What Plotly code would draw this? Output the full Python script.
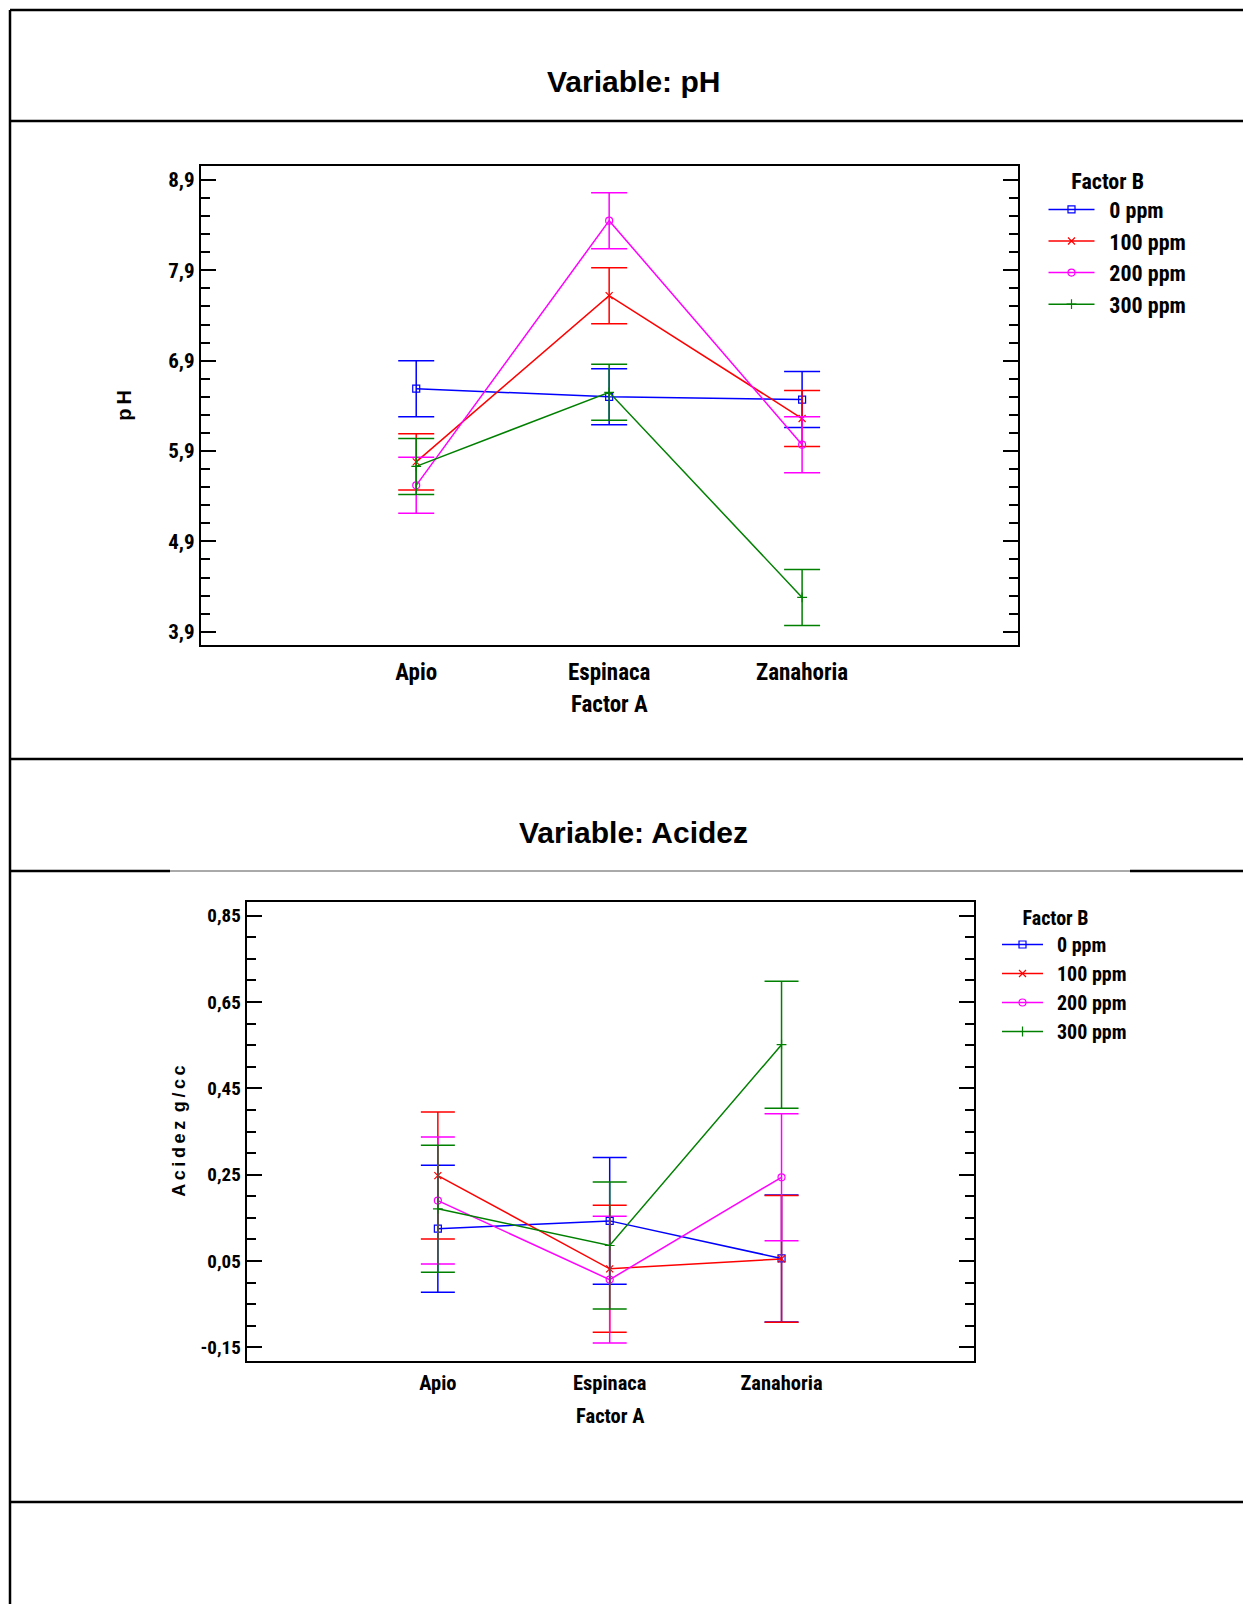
import plotly.graph_objects as go

# ---------------- data ----------------
factor_a = ["Apio", "Espinaca", "Zanahoria"]
factor_b = ["0 ppm", "100 ppm", "200 ppm", "300 ppm"]

ph_0 = [6.59, 6.50, 6.47]
ph_100 = [5.78, 7.62, 6.26]
ph_200 = [5.52, 8.45, 5.97]
ph_300 = [5.73, 6.55, 4.28]
ph_err = [0.31, 0.31, 0.31]

ac_0 = [0.125, 0.143, 0.056]
ac_100 = [0.248, 0.032, 0.055]
ac_200 = [0.190, 0.007, 0.244]
ac_300 = [0.171, 0.086, 0.551]
ac_err = [0.147, 0.147, 0.147]

ph_tickvals = [3.9, 4.9, 5.9, 6.9, 7.9, 8.9]
ph_ticktext = ["3,9", "4,9", "5,9", "6,9", "7,9", "8,9"]
ac_tickvals = [-0.15, 0.05, 0.25, 0.45, 0.65, 0.85]
ac_ticktext = ["-0,15", "0,05", "0,25", "0,45", "0,65", "0,85"]

colors = ["#0000FF", "#FF0000", "#FF00FF", "#008000"]
symbols = ["square-open", "x-thin-open", "circle-open", "cross-thin-open"]

NARROW = "Liberation Sans Narrow, Arial Narrow, Roboto Condensed, DejaVu Sans Condensed, Liberation Sans, Arial, sans-serif"
ARIAL = "Liberation Sans, Arial, sans-serif"

W, H = 1243, 1604


def px(x):
    return x / W


def py(y):
    return 1 - y / H


def spaced(s):
    return "\u2009".join(s)


fig = go.Figure()

ph_series = [ph_0, ph_100, ph_200, ph_300]
ac_series = [ac_0, ac_100, ac_200, ac_300]

for i, name in enumerate(factor_b):
    fig.add_trace(go.Scatter(
        x=factor_a, y=ph_series[i], name="\u2002" + name, mode="lines+markers",
        line=dict(color=colors[i], width=1.5),
        marker=dict(symbol=symbols[i], size=7, color=colors[i], line=dict(color=colors[i], width=1.2)),
        error_y=dict(type="data", array=ph_err, color=colors[i], thickness=1.5, width=18),
        xaxis="x", yaxis="y", legend="legend",
    ))

for i, name in enumerate(factor_b):
    fig.add_trace(go.Scatter(
        x=factor_a, y=ac_series[i], name="\u2002" + name, mode="lines+markers",
        line=dict(color=colors[i], width=1.5),
        marker=dict(symbol=symbols[i], size=7, color=colors[i], line=dict(color=colors[i], width=1.2)),
        error_y=dict(type="data", array=ac_err, color=colors[i], thickness=1.5, width=17),
        xaxis="x2", yaxis="y2", legend="legend2",
    ))

axis_common = dict(showline=True, linecolor="black", linewidth=2, mirror="ticks",
                   showgrid=False, zeroline=False)

fig.update_layout(
    width=W, height=H, autosize=False,
    margin=dict(l=0, r=0, t=0, b=0),
    paper_bgcolor="white", plot_bgcolor="white",
    xaxis=dict(domain=[px(200.7), px(1018)], anchor="y", type="category",
               range=[-1.117, 3.119], ticks="", mirror=True, showline=True,
               linecolor="black", linewidth=2, showgrid=False, zeroline=False,
               ticklabelstandoff=5,
               tickfont=dict(family=NARROW, size=23, color="black", weight="bold"),
               title=dict(text="Factor A", font=dict(family=NARROW, size=23, color="black", weight="bold"), standoff=11)),
    yaxis=dict(domain=[py(645), py(166)], anchor="x", range=[3.753, 9.055],
               tickmode="array", tickvals=ph_tickvals, ticktext=ph_ticktext,
               ticks="inside", ticklen=15, tickwidth=2, tickcolor="black",
               minor=dict(ticks="inside", ticklen=9, tickwidth=2, tickcolor="black", dtick=0.2, tick0=3.9),
               tickfont=dict(family=NARROW, size=21, color="black", weight="bold"),
               title=dict(text="p\u2009H", font=dict(family=ARIAL, size=20, color="black", weight="bold"), standoff=31),
               **axis_common),
    xaxis2=dict(domain=[px(246.6), px(974)], anchor="y2", type="category",
                range=[-1.113, 3.12], ticks="", mirror=True, showline=True,
                linecolor="black", linewidth=2, showgrid=False, zeroline=False,
                ticklabelstandoff=3,
                tickfont=dict(family=NARROW, size=20.5, color="black", weight="bold"),
                title=dict(text="Factor A", font=dict(family=NARROW, size=20.5, color="black", weight="bold"), standoff=14)),
    yaxis2=dict(domain=[py(1360.7), py(901.5)], anchor="x2", range=[-0.1808, 0.8827],
                tickmode="array", tickvals=ac_tickvals, ticktext=ac_ticktext,
                ticks="inside", ticklen=15, tickwidth=2, tickcolor="black",
                minor=dict(ticks="inside", ticklen=9, tickwidth=2, tickcolor="black", dtick=0.05, tick0=-0.15),
                tickfont=dict(family=NARROW, size=19, color="black", weight="bold"),
                title=dict(text=spaced("Acidez") + "\u2009 " + spaced("g/cc"),
                           font=dict(family=ARIAL, size=18, color="black", weight="bold"), standoff=10),
                **axis_common),
    legend=dict(x=px(1043.5), y=py(160), xanchor="left", yanchor="top",
                bgcolor="rgba(0,0,0,0)", borderwidth=0,
                font=dict(family=NARROW, size=22, color="black", weight="bold"),
                title=dict(text="Factor B\u2002\u2002", side="top center",
                           font=dict(family=NARROW, size=22, color="black", weight="bold")),
                itemwidth=46, tracegroupgap=0),
    legend2=dict(x=px(997), y=py(899), xanchor="left", yanchor="top",
                 bgcolor="rgba(0,0,0,0)", borderwidth=0,
                 font=dict(family=NARROW, size=20, color="black", weight="bold"),
                 title=dict(text="Factor B\u2002\u2002", side="top center",
                            font=dict(family=NARROW, size=20, color="black", weight="bold")),
                 itemwidth=41, tracegroupgap=0),
    annotations=[
        dict(text="Variable: pH", x=px(633), y=py(82), xref="paper", yref="paper",
             showarrow=False, xanchor="center", yanchor="middle",
             font=dict(family=ARIAL, size=30, color="black", weight="bold")),
        dict(text="Variable: Acidez", x=px(633), y=py(832), xref="paper", yref="paper",
             showarrow=False, xanchor="center", yanchor="middle",
             font=dict(family=ARIAL, size=30, color="black", weight="bold")),
    ],
)

# outer frame lines (decoration)
shapes = []
frame_y = [10, 121, 759, 1502]
for yy in frame_y:
    shapes.append(dict(type="line", xref="paper", yref="paper", x0=px(10), x1=1,
                       y0=py(yy), y1=py(yy), line=dict(color="black", width=2.5)))
shapes.append(dict(type="line", xref="paper", yref="paper", x0=px(10), x1=px(170),
                   y0=py(871), y1=py(871), line=dict(color="black", width=2.5)))
shapes.append(dict(type="line", xref="paper", yref="paper", x0=px(170), x1=px(1130),
                   y0=py(871), y1=py(871), line=dict(color="#555555", width=1)))
shapes.append(dict(type="line", xref="paper", yref="paper", x0=px(1130), x1=1,
                   y0=py(871), y1=py(871), line=dict(color="black", width=2.5)))
shapes.append(dict(type="line", xref="paper", yref="paper", x0=px(10), x1=px(10),
                   y0=py(10), y1=0, line=dict(color="black", width=2.5)))
fig.update_layout(shapes=shapes)

fig.write_html("out.html")
